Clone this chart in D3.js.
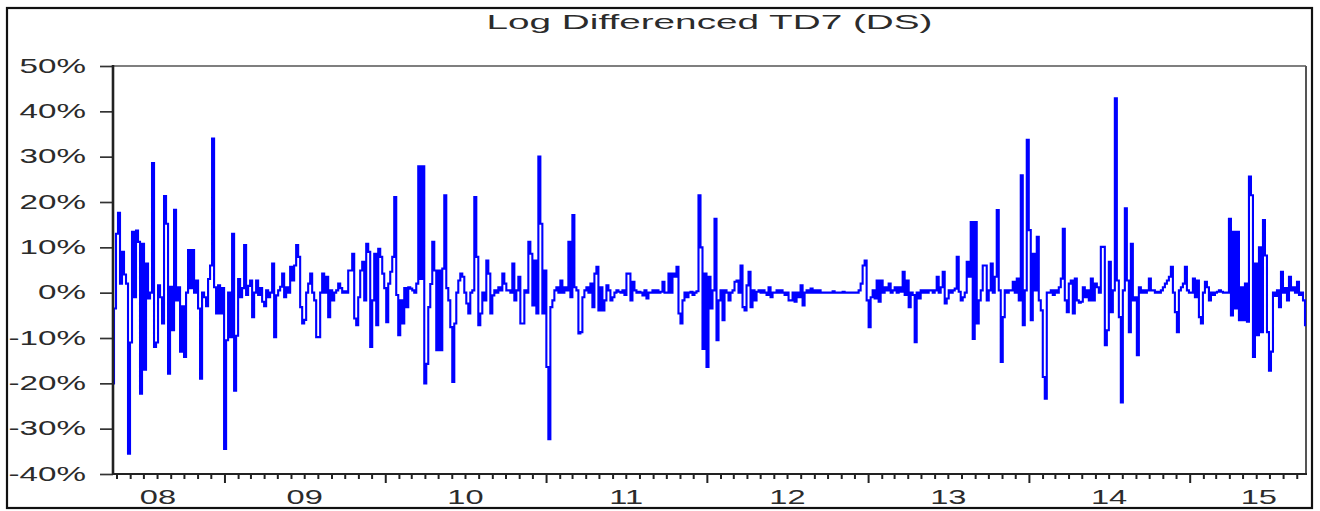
<!DOCTYPE html>
<html><head><meta charset="utf-8">
<script src="https://cdn.jsdelivr.net/npm/d3@7"></script>
<style>html,body{margin:0;padding:0;background:#fff;} svg{display:block;}</style>
</head><body><svg id="chart" width="1320" height="511"></svg>
<script>
const chartTitle = "Log Differenced TD7 (DS)";
const startDate = "2008-04-23";
const endDate = "2015-09-22";
const yTicks = [-40, -30, -20, -10, 0, 10, 20, 30, 40, 50];
const yearLabels = ["08", "09", "10", "11", "12", "13", "14", "15"];
const yearLabelDates = ["2008-08-03", "2009-07-02", "2010-07-02", "2011-07-02", "2012-07-02", "2013-07-02", "2014-07-02", "2015-06-07"];

// log-differenced values, in percent, in time order
const seg2008 = [
 -20, -3.5, 13, 17.6, 2, 9, 4, 2, -35.5,
 -11, 13.4, -1, 13.7, 11.2, -22.3, 10.8, -17, 6.4, -1.3,
 0, 28.6, -12, -11, 1.6, -1, -6.8, 21.3, 15.2, -17.9,
 1.3, -8.3, 18.3, -1.7, 1.2, -13, -3, -14.2, 0, 9.4,
 1, 9.4, 0, 2.7, -3.5, -19, 0, -1, -3, 3,
 6, 34, 1.2, -4.6, 1.6, -4.6, 1, -34.5, -10.5, 0,
 -9.8, 13, -21.6, -9.5, 3, -1, 1, 10.5, -0.5, 1.5,
 2.7, -5.4, 0, 2.7, -0.5, 1, -2, -3, 0.5, -1,
 0, 6.4, -9.8, -0.6, 0.5, 1.3, 4.2, -1, 1.2, 0,
 5.7, 2.7, 6, 10.5, 7.9, -3.2, -6.8, -6, 0, 2,
 4.2, 0, -1.7, -9.8, -9.8, 0, 4.2, 0, 3.5, -5.4,
 0.5, -1.7, 0, 0.5, 2, 1, 0, 0.3, 0, 4.9
];
const seg2009 = [
 4.9, 8.6, -5.7, -7.2, -1, 4.9, 6.8, -1.7, 10.8, 9,
 -12, -1.7, 8.6, -7.2, 9.7, 7.9, 4.2, 1, -6.5, 2,
 4.6, 7.9, 21.1, -0.5, -9.4, -1.7, -6.8, 1, -3.2, 1.2,
 0.9, 0.5, 0, 2, 27.9, 3, 27.9, -20, -15.7, -3.2,
 1.9, 11.2, 4.9, -12.7, 4.9, -12.7, 5.3, 21.5, 1, -1.7,
 -7.6, -19.7, -6.8, 0, 2.7, 4.2, 3.5, 0, -2.4, -4.6,
 0, 0.5, 21.1, 7.9, -7.2, -4.6, 0, -1.7, 7.1, 4.2,
 -4.6, -0.6, 0.5, 0, 1.2, 0.5, 4.2, 2, 0.5, 0.5,
 0, 6.4, -1.7, 0.5, 3.5, -6.8, -6.8, 0.5, 0, 11.2,
 8.6, -2.8, 7.1, -4.6, 30, 15.2, -4.6, 4.9, -16.4, -32.3,
 -3.2, -1.7, 0.5, 1.2, 0, 2.7, 0, 1.2, 0.5, 11.2,
 -1, 17.1, 1.2, 0.5, -9, -8.7, -1, 0.5, 1.2, 0
];
const seg2011 = [
 2, -3.2, 4.2, 5.7, -3.9, 1.2, -3.9, -1.7, 1.6, 0.5,
 -1.7, -1, 0, 0.5, 0.2, 0, 0.5, -0.5, 4.2, 4.2,
 -1.7, 2.4, 0.5, 0, 0.2, 0, -0.6, 0.5, -1.3, 0,
 0, 0.5, 0, 0.5, 0, 0.2, 2.4, 0, 0, 4.2,
 0, 4.2, 3.5, 5.7, -4.6, -6.8, -1.7, 0, -1, 0,
 0.2, -0.5, 0, 0.3, 21.5, 10, -12.4, 4.2, -16.4, 3.5,
 -3.5, 0.5, 16.3, -10.5, -1.7, 0.5, -6.1, 0.5, 0, -1.7,
 0, 0.5, 2.4, 2.7, 0, 6, -3.2, -3.9, 1.6, 4.6,
 -3.2, 0.5, -1.7, 0.2, 0.5, 0, 0.5, 0, -0.5, 1.2,
 -1, 0, 0, 0.5, 0, 0.5, 0, -0.5, 0, -1.7,
 -1.7, 0, -2, 0, -1, 1.6, -2.8, 0, 0.5, 0,
 0.9, 0, 0.5, 0, 0.5, 0, 0, 0, 0, 0
];
const seg2013 = [
 0, 0.3, 0, 0, 0, 0, 0.2, 0, 0, 0,
 0, 0, 0, 0, 0.5, 2, 6, 7.1, -1.7, -7.6,
 -1, 0.5, -1.3, 2.7, -2, 2.7, 0, 1.2, 0.5, 2,
 0, 0.5, 1.2, 0, 1.2, 0.2, 4.6, -0.5, 2.7, -3.2,
 0, -0.5, -10.9, 0, -1.3, 0.5, 0, 0.5, 0, 0.5,
 0.5, 0, 0.5, 3.5, 0, 1.2, 4.6, -2.4, -1.3, 0.5,
 0, 0.5, 0.9, 7.9, 0.2, -1.7, -1, 0, 6.8, 3.5,
 15.6, -10.2, 15.6, -6.8, -1.7, 0.5, 6, 6, -1.7, 0.5,
 6.4, 0, 3.5, 18.2, 0.5, -15.3, -5.4, 0.5, 0, 0.5,
 0.5, 2.4, 0, 3.1, -1.7, 25.9, -7.2, 0.5, 33.7, 13.8,
 -6.1, 8.6, 0.5, 12.3, -1.7, -3.9, -18.6, -23.4, 0, 0,
 0.5, -0.5, 0.5, 0, 1.2, 3.1, 14.1, -1.7, -4.3, 2
];
const seg2014 = [
 2.7, -4.6, 3.1, -1.7, -2.2, -2, 1.2, -1, 0.5, -1.7,
 3.1, -1.7, 2, 1.2, 0, 10.1, 10.1, -11.6, -8.3, 6.8,
 -4.3, 0.5, 42.9, 2.7, -5.4, -24.2, 0.5, 18.6, 2.7, -8.7,
 10.8, -1.7, -1, -13.8, 1.2, 0, 0.5, 0, 0.5, 3.1,
 0.5, 0.5, 0, 0.2, 0, 0.5, 1.2, 2, 2.7, 3.5,
 5.7, 0, -4.3, -8.7, 0.5, 1.2, 2, 5.7, 0.5, 0,
 0, 3.1, -1, 2.7, -5.4, -6.8, 0, 2.4, 1.2, -1.7,
 0, -0.5, 0, 0.2, 0.5, 0.2, 0, 0, 0, 16.3,
 -5, 13.4, -3.5, 13.4, -6.1, 1.2, -6.1, 2, -6.4, 25.6,
 21.5, -14.2, 6.4, -9.4, 10, -8.7, 16, 8.2, -8.7, -17.2,
 -13, 0, -0.7, 0.5, -3.2, 4.6, 0, 1, -1.7, 3.5,
 0.5, 1.2, 0, 2.4, -0.5, 0, -1.7, -7.2
];
const values = [].concat(seg2008, seg2009, seg2011, seg2013, seg2014);

const FONT = "'Liberation Sans', Arial, Helvetica, sans-serif";
const TEXT_COLOR = "#2b2b2b";
const svg = d3.select("#chart");
const M = {left: 113, top: 66, right: 1306, bottom: 474};
const parse = d3.utcParse("%Y-%m-%d");
const t0 = parse(startDate), t1 = parse(endDate);
const x = d3.scaleUtc().domain([t0, t1]).range([M.left, M.right]);
const y = d3.scaleLinear().domain([-40, 50]).range([M.bottom, M.top]);
const stepMs = (t1 - t0) / (values.length - 1);
const data = values.map((v, i) => ({date: new Date(+t0 + i * stepMs), v}));

svg.append("rect").attr("width", 1320).attr("height", 511).attr("fill", "#fff");
// outer border
svg.append("rect").attr("x", 7).attr("y", 8).attr("width", 1305).attr("height", 500)
  .attr("fill", "none").attr("stroke", "#111").attr("stroke-width", 2.2);

function stretchedText(parent, str, px, py, anchor, size, sx) {
  return parent.append("text").text(str)
    .attr("transform", `translate(${px},${py}) scale(${sx},1)`)
    .attr("text-anchor", anchor)
    .attr("font-family", FONT).attr("font-size", size)
    .attr("fill", TEXT_COLOR);
}

// title, fitted to its width in the reference
const tt = stretchedText(svg, chartTitle, (M.left + M.right) / 2, 29, "middle", 20, 1);
const natural = tt.node().getComputedTextLength();
tt.attr("transform", `translate(${(M.left + M.right) / 2},29) scale(${446 / natural},1)`);

// frame: top and right lighter
svg.append("line").attr("x1", M.left).attr("x2", M.right).attr("y1", M.top).attr("y2", M.top)
  .attr("stroke", "#555").attr("stroke-width", 1.6);
svg.append("line").attr("x1", M.right).attr("x2", M.right).attr("y1", M.top).attr("y2", M.bottom)
  .attr("stroke", "#555").attr("stroke-width", 2);

// y axis
const yAxis = d3.axisLeft(y).tickValues(yTicks).tickSize(13).tickSizeOuter(0).tickFormat("");
const gy = svg.append("g").attr("transform", `translate(${M.left},0)`).call(yAxis);
gy.select(".domain").remove();
gy.selectAll(".tick line").attr("stroke", "#333").attr("stroke-width", 1.7);
yTicks.forEach(t => stretchedText(svg, t + "%", 86, y(t) + 6.5, "end", 20, 1.66));

// x axis: monthly ticks, longer at each year start
const months = d3.utcMonth.range(d3.utcMonth.ceil(t0), t1);
const xAxis = d3.axisBottom(x).tickValues(months).tickSize(5).tickSizeOuter(0).tickFormat("");
const gx = svg.append("g").attr("transform", `translate(0,${M.bottom})`).call(xAxis);
gx.select(".domain").remove();
gx.selectAll(".tick line")
  .attr("stroke", "#222").attr("stroke-width", 2)
  .attr("y2", d => d.getUTCMonth() === 0 ? 9 : 5);
yearLabels.forEach((lab, i) =>
  stretchedText(svg, lab, x(parse(yearLabelDates[i])), 504, "middle", 20, 1.63));

// series, drawn as steps so each change is a vertical spike
const line = d3.line().curve(d3.curveStep).x(d => x(d.date)).y(d => y(d.v));
svg.append("path").datum(data).attr("d", line)
  .attr("fill", "none").attr("stroke", "#0000ff").attr("stroke-width", 2.1)
  .attr("stroke-linejoin", "miter");

// left and bottom axis lines on top
svg.append("line").attr("x1", M.left).attr("x2", M.left).attr("y1", M.top - 1).attr("y2", M.bottom + 1)
  .attr("stroke", "#222").attr("stroke-width", 2.6);
svg.append("line").attr("x1", M.left).attr("x2", M.right + 1).attr("y1", M.bottom).attr("y2", M.bottom)
  .attr("stroke", "#222").attr("stroke-width", 2.2);
</script></body></html>
